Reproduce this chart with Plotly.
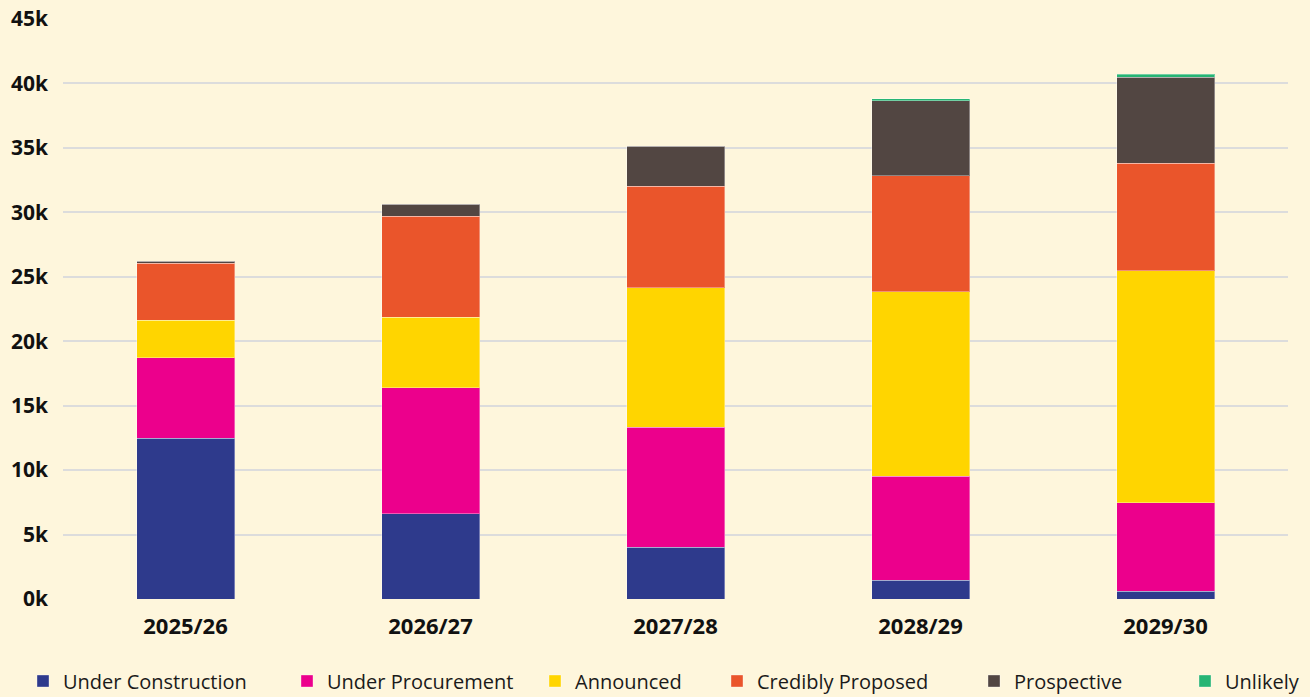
import plotly.graph_objects as go

years = ["2025/26", "2026/27", "2027/28", "2028/29", "2029/30"]
under_construction = [12480, 6620, 4030, 1440, 620]
under_procurement = [6220, 9760, 9310, 8100, 6830]
announced = [2930, 5480, 10790, 14280, 18000]
credibly_proposed = [4430, 7820, 7910, 9000, 8350]
prospective = [160, 950, 3100, 5850, 6680]
unlikely = [0, 0, 0, 130, 230]

series = [
    ("Under Construction", under_construction, "#2E3A8C"),
    ("Under Procurement", under_procurement, "#EC008C"),
    ("Announced", announced, "#FFD500"),
    ("Credibly Proposed", credibly_proposed, "#EA552B"),
    ("Prospective", prospective, "#524642"),
    ("Unlikely", unlikely, "#27B574"),
]

text_starts = [64, 328, 576, 758, 1015, 1226]

L, R, T, B = 63, 22, 19, 98
W, H = 1310, 697
pw = W - L - R
ph = H - T - B
BG = "#FEF6DC"

fig = go.Figure()
legend_layouts = {}
for i, (name, vals, col) in enumerate(series):
    lg = "legend" if i == 0 else f"legend{i+1}"
    fig.add_trace(go.Bar(
        x=years, y=vals, name=name, legend=lg,
        marker=dict(color=col, line=dict(color="rgba(255,255,255,0.35)", width=1)),
        width=0.4,
    ))
    legend_layouts[lg] = dict(
        x=(text_starts[i] - 41 - L) / pw, xanchor="left",
        y=(T + ph - 681) / ph, yanchor="middle",
        orientation="h", bgcolor="rgba(0,0,0,0)",
        font=dict(family="Open Sans", size=20, color="#1a1a1a"),
        itemwidth=30, borderwidth=0,
    )

fig.update_layout(
    barmode="stack",
    width=W, height=H,
    margin=dict(l=L, r=R, t=T, b=B, autoexpand=False),
    paper_bgcolor=BG,
    plot_bgcolor=BG,
    font=dict(family="Open Sans", color="#111111"),
    xaxis=dict(
        range=[-0.5, 4.5], showgrid=False, zeroline=False, showline=False,
        tickfont=dict(family="Open Sans", size=22, color="#111111", weight="bold"),
        ticks="", ticklabelstandoff=12, automargin=False,
    ),
    yaxis=dict(
        range=[0, 45000], tickvals=[i * 5000 for i in range(10)],
        ticktext=[f"{i*5}k" for i in range(10)],
        showgrid=True, gridcolor="#DCDCDC", gridwidth=2, zeroline=False,
        tickfont=dict(family="Open Sans", size=21, color="#111111", weight="bold"),
        ticks="", ticklabelstandoff=14, automargin=False,
    ),
    showlegend=True,
    **legend_layouts,
)

fig.write_html(
    "out.html",
    config={"displayModeBar": False},
    post_script=f"document.body.style.margin='0';document.body.style.background='{BG}';",
)
